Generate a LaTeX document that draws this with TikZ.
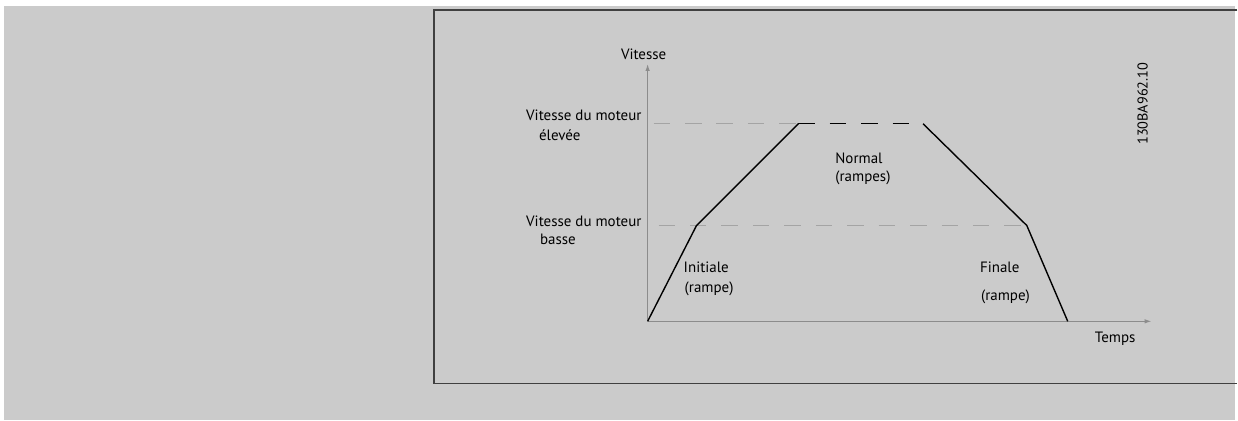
\documentclass[tikz,border=0pt]{standalone}
\usepackage{fontspec}
\setmainfont{PT Sans}
\usetikzlibrary{arrows.meta,positioning}

\definecolor{panel}{HTML}{CBCBCB}
\definecolor{axisgray}{HTML}{8C8C8C}
\definecolor{dashgray}{HTML}{A4A4A4}

\begin{document}
\begin{tikzpicture}[
  x=1pt, y=-1pt,
  font=\fontsize{15}{17}\selectfont,
  lbl/.style={inner sep=0pt, anchor=west},
  axis/.style={-{Latex[length=7pt,width=4.5pt]}, draw=axisgray, line width=1.2pt},
  guide/.style={draw=dashgray, line width=1.2pt, dash pattern=on 16.5pt off 15pt},
  curve/.style={draw=black, line width=1.4pt},
  hold/.style={curve, dash pattern=on 16.5pt off 15pt}
]

% background and frame
\fill[white] (0,0) rectangle (1238,421);
\fill[panel] (4,6) rectangle (1238,421);
\draw[black!75, line width=1.3pt] (1240,10) -- (435,10) -- (435,384) -- (1240,384);
\useasboundingbox (0,0) rectangle (1238,421);

% axes
\coordinate (origin) at (649,322);
\coordinate (ytop) at (649,64);
\coordinate (xend) at (1154,322);
\draw[axis] (origin) -- (ytop);
\draw[axis] (origin) -- (xend);

% speed levels
\coordinate (highL) at (655,124);
\coordinate (lowL) at (660,226);
\coordinate (start) at (649,322);
\coordinate (bend1) at (698,226);
\coordinate (top1) at (800,124);
\coordinate (top2) at (925,124);
\coordinate (bend2) at (1029,226);
\coordinate (stop) at (1070,322);

\draw[guide] (highL) -- (top1);
\draw[guide] (lowL) -- (bend2);

% speed profile
\draw[curve, line join=miter] (start) -- (bend1) -- (top1);
\draw[hold] (top1) -- (top2);
\draw[curve, line join=miter] (top2) -- (bend2) -- (stop);

% labels
\node[inner sep=0pt] (vit) at (645,54) {Vitesse};
\node[inner sep=0pt, anchor=east] (high1) at (643,116) {Vitesse du moteur};
\node[lbl] (high2) at (540,135) {élevée};
\node[inner sep=0pt, anchor=east] (low1) at (643,222) {Vitesse du moteur};
\node[lbl] (low2) at (541,240) {basse};
\node[lbl] (norm1) at (837,159) {Normal};
\node[lbl] (norm2) at (837,178) {(rampes)};
\node[lbl] (init1) at (685,268) {Initiale};
\node[lbl] (init2) at (686,289) {(rampe)};
\node[lbl] (fin1) at (982,268) {Finale};
\node[lbl] (fin2) at (983,297) {(rampe)};
\node[lbl] (temps) at (1097,339) {Temps};
\node[inner sep=0pt, rotate=90, font=\fontsize{14.3}{17}\selectfont] (ref) at (1145,104) {130BA962.10};

\end{tikzpicture}
\end{document}
